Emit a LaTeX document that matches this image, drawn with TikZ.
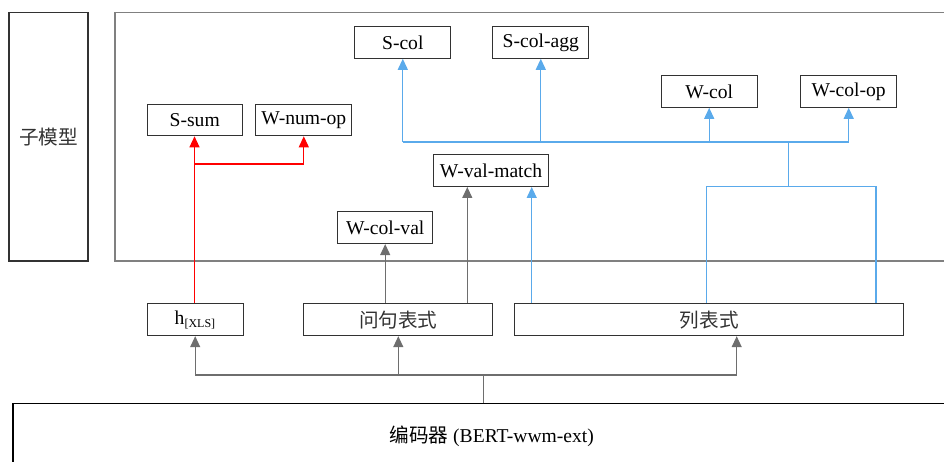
\documentclass[tikz,border=0pt]{standalone}
\usepackage{fontspec}
\setmainfont{Liberation Serif}
\newfontfamily\cjk{Noto Sans CJK SC}
\usetikzlibrary{arrows.meta}
\definecolor{cblue}{RGB}{90,170,235}
\definecolor{cgray}{RGB}{110,110,110}
\definecolor{cframe}{RGB}{128,128,128}
\definecolor{cdark}{RGB}{50,50,50}
\begin{document}
\begin{tikzpicture}[x=1pt,y=-1pt,font=\fontsize{19.6}{22}\selectfont,
  box/.style={draw=cdark,line width=1pt,inner sep=0pt,minimum height=31.6pt,text=black},
  arr/.style={-{Triangle[length=11pt,width=10pt]}},
  redline/.style={draw=red,line width=1.2pt},
  bline/.style={draw=cblue,line width=1.2pt},
  gline/.style={draw=cgray,line width=1.2pt},
  frame/.style={draw=cframe,line width=1.3pt}]
\useasboundingbox (0,0) rectangle (944,462);
% frames
\node[draw=cdark,line width=1.3pt,minimum width=79pt,minimum height=248.3pt,inner sep=0pt,text=cdark] (sub) at (48.5,136.8) {\cjk 子模型};
\draw[frame] (946,12.7) -- (115,12.7) -- (115,261) -- (946,261);
% sub-model boxes
\node[box,minimum width=95.7pt] (scol) at (402.8,42.5) {S-col};
\node[box,minimum width=95.7pt] (scolagg) at (540.8,42.5) {S-col-agg};
\node[box,minimum width=95.7pt] (wcol) at (709.2,91.5) {W-col};
\node[box,minimum width=96pt] (wcolop) at (848.7,91.5) {W-col-op};
\node[box,minimum width=95.3pt] (ssum) at (194.7,120) {S-sum};
\node[box,minimum width=95.7pt] (wnumop) at (303.8,120) {W-num-op};
\node[box,minimum width=114.6pt] (wvm) at (491,170.7) {W-val-match};
\node[box,minimum width=95pt] (wcv) at (385.2,227.8) {W-col-val};
% representation boxes
\node[box,minimum width=95.7pt,minimum height=32pt] (h) at (195.2,319.7) {h\textsubscript{\fontsize{12}{14}\selectfont[XLS]}};
\node[box,minimum width=189.3pt,minimum height=32pt,text=cdark] (wq) at (398.3,319.7) {\cjk 问句表式};
\node[box,minimum width=389.3pt,minimum height=32pt,text=cdark] (lie) at (709.3,319.7) {\cjk 列表式};
% encoder
\node[inner sep=0pt] (enc) at (491.7,436) {{\cjk 编码器} (BERT-wwm-ext)};
\draw[draw=black,line width=1.1pt] (13,470) -- (13,403.3) -- (950,403.3);
% helper coordinates
\coordinate (rj) at (194.5,164);
\coordinate (xa) at (531.7,0);
\coordinate (xg) at (467.3,0);
\coordinate (b1) at (706.7,186.5);
\coordinate (b2) at (876,186.5);
\coordinate (bm) at (788.3,186.5);
\coordinate (bt) at (788.3,142);
\coordinate (et) at (483.5,403.3);
\coordinate (ej) at (483.5,375);
\coordinate (xl) at (736.7,0);
% red connectors
\draw[redline,arr] (h.north -| rj) -- (ssum.south -| rj);
\draw[redline,arr] (rj) -| (wnumop.south);
% gray connectors upper
\draw[gline,arr] (wq.north -| wcv.south) -- (wcv.south);
\draw[gline,arr] (wq.north -| xg) -- (wvm.south -| xg);
% blue connectors
\draw[bline,arr] (lie.north -| xa) -- (wvm.south -| xa);
\draw[bline] (lie.north -| b1) -- (b1) -- (b2) -- (lie.north -| b2);
\draw[bline] (bm) -- (bt);
\draw[bline] (scol.south |- bt) -- (wcolop.south |- bt);
\draw[bline,arr] (scol.south |- bt) -- (scol.south);
\draw[bline,arr] (scolagg.south |- bt) -- (scolagg.south);
\draw[bline,arr] (wcol.south |- bt) -- (wcol.south);
\draw[bline,arr] (wcolop.south |- bt) -- (wcolop.south);
% gray connectors lower
\draw[gline] (et) -- (ej);
\draw[gline,arr] (ej) -| (h.south);
\draw[gline,arr] (wq.south |- ej) -- (wq.south);
\draw[gline,arr] (ej) -| (lie.south -| xl);
\end{tikzpicture}
\end{document}
